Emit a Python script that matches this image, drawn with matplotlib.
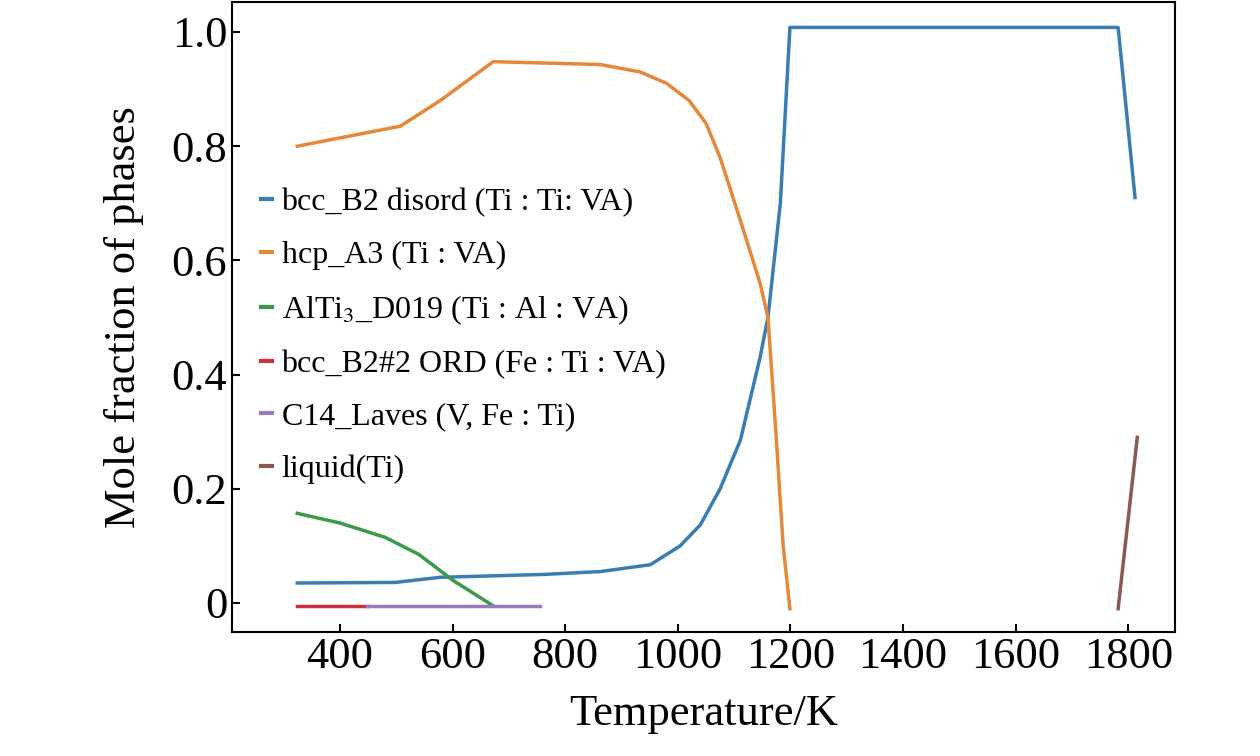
import matplotlib
matplotlib.use("Agg")
import matplotlib.pyplot as plt

plt.rcParams['font.family'] = ['Liberation Serif', 'DejaVu Serif']
plt.rcParams['mathtext.fontset'] = 'stix'

# bcc_B2 disord
t_bcc = [324, 498, 578, 761, 862, 951, 1004, 1040, 1075, 1111, 1146, 1160, 1182, 1199, 1782, 1812]
y_bcc = [0.035, 0.036, 0.045, 0.05, 0.055, 0.067, 0.1, 0.137, 0.2, 0.285, 0.43, 0.5, 0.7, 1.008, 1.008, 0.71]
# hcp_A3
t_hcp = [324, 507, 578, 672, 862, 933, 980, 1020, 1050, 1075, 1111, 1146, 1160, 1174, 1187, 1199]
y_hcp = [0.80, 0.835, 0.88, 0.948, 0.943, 0.93, 0.91, 0.88, 0.84, 0.78, 0.67, 0.56, 0.5, 0.3, 0.1, -0.01]
# AlTi3_D019
t_al = [324, 400, 480, 540, 600, 640, 672]
y_al = [0.157, 0.14, 0.115, 0.085, 0.04, 0.015, -0.005]
# bcc_B2#2 ORD
t_red = [324, 448]
y_red = [-0.005, -0.005]
# C14_Laves
t_lav = [448, 755]
y_lav = [-0.005, -0.005]
# liquid
t_liq = [1782, 1816]
y_liq = [-0.01, 0.29]

labels = ["bcc_B2 disord (Ti : Ti: VA)", "hcp_A3 (Ti : VA)",
          r"AlTi$_3$_D019 (Ti : Al : VA)", "bcc_B2#2 ORD (Fe : Ti : VA)",
          "C14_Laves (V, Fe : Ti)", "liquid(Ti)"]
colors = ['#3a7db0', '#e5883a', '#3a9a4a', '#c8303a', '#9a7ab8', '#8a5a50']

fig = plt.figure(figsize=(12.6, 7.56), dpi=100)
ax = fig.add_axes([232/1260, 1-632/756, 943/1260, 630/756])
series = [(t_bcc, y_bcc), (t_hcp, y_hcp), (t_al, y_al), (t_red, y_red), (t_lav, y_lav), (t_liq, y_liq)]
for (t, y), lab, c in zip(series, labels, colors):
    ax.plot(t, y, color=c, lw=2.5, label=lab)

ax.set_xlim(208, 1883)
ax.set_ylim(-0.0508, 1.0525)
ax.set_xticks(range(400, 1801, 200))
ax.set_yticks([0, 0.2, 0.4, 0.6, 0.8, 1.0])
ax.set_yticklabels(['0', '0.2', '0.4', '0.6', '0.8', '1.0'])
ax.tick_params(direction='in', labelsize=32, length=6, width=1.5)
for s in ax.spines.values():
    s.set_linewidth(1.5)
ax.set_xlabel("Temperature/K", fontsize=32, labelpad=12)
ax.set_ylabel("Mole fraction of phases", fontsize=32, labelpad=20)
leg = ax.legend(loc='upper left', bbox_to_anchor=(0.0, 0.75), frameon=False, fontsize=23,
                handlelength=0.35, handletextpad=0.3, labelspacing=0.72)
for h in leg.get_lines():
    h.set_linewidth(3)
fig.savefig("out.png", dpi=100)
